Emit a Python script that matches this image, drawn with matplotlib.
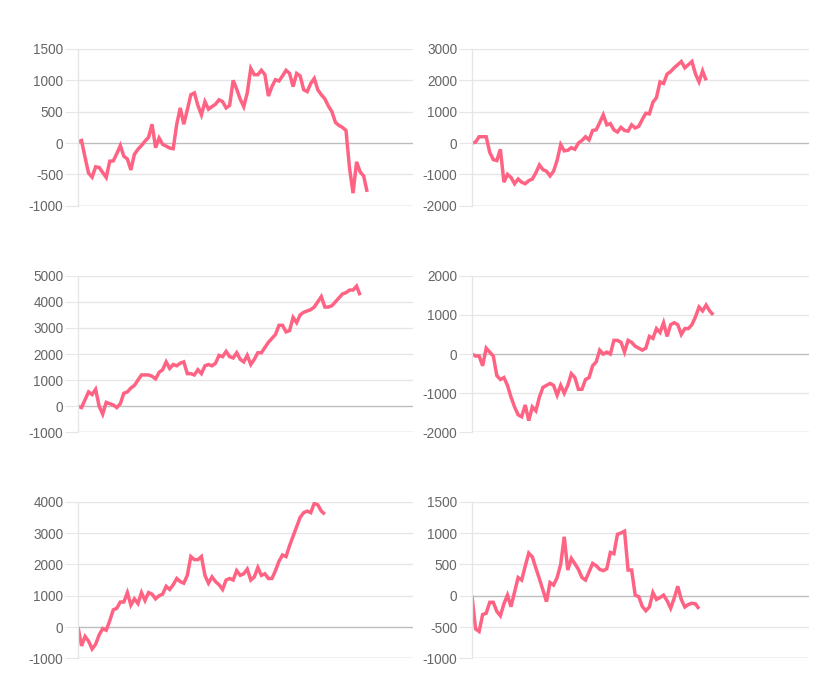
import numpy as np
import matplotlib.pyplot as plt

# shared x labels (category axis)
labels = list(range(96))

s1 = [20, 40, -230, -480, -545, -380, -390, -470, -550, -290,
      -285, -170, -40, -210, -255, -430, -180, -100, -40, 30,
      90, 300, -75, 80, -20, -50, -80, -90, 300, 560,
      300, 530, 770, 800, 600, 450, 660, 540, 580, 620,
      690, 660, 560, 600, 1000, 860, 700, 580, 800, 1190,
      1090, 1090, 1160, 1090, 750, 900, 1010, 990, 1070, 1160,
      1110, 900, 1110, 1070, 850, 820, 950, 1030, 850, 770,
      705, 590, 500, 330, 280, 250, 200, -400, -800, -300,
      -460, -525, -780]
s2 = [0, 30, 200, 200, 200, -300, -530, -560, -200,
      -1250, -1000, -1100, -1300, -1150, -1250, -1300, -1200, -1150, -950,
      -700, -850, -900, -1050, -900, -550, -50, -250, -230, -150,
      -200, 0, 80, 200, 100, 400, 420, 650, 900, 580,
      620, 420, 350, 500, 400, 380, 580, 480, 530, 750,
      950, 930, 1300, 1450, 1950, 1900, 2200, 2280, 2400, 2500,
      2600, 2400, 2500, 2600, 2200, 1950, 2300, 2000]
s3 = [0, -50, 250, 550, 450, 650, 0, -300, 150, 100,
      50, -50, 100, 500, 550, 700, 800, 1000, 1200, 1200,
      1200, 1150, 1050, 1300, 1400, 1700, 1450, 1600, 1550, 1650,
      1700, 1250, 1250, 1200, 1400, 1250, 1550, 1600, 1550, 1650,
      1950, 1900, 2100, 1900, 1850, 2050, 1800, 1700, 1950, 1600,
      1800, 2050, 2050, 2250, 2450, 2600, 2750, 3100, 3100, 2850,
      2900, 3400, 3200, 3500, 3600, 3650, 3700, 3800, 4000, 4200,
      3800, 3800, 3850, 4000, 4150, 4300, 4350, 4450, 4450, 4600,
      4250]
s4 = [0, -50, -50, -300, 150, 50, -50, -550, -650, -600,
      -800, -1100, -1350, -1550, -1600, -1300, -1700, -1350, -1450, -1100,
      -850, -800, -750, -800, -1050, -800, -1000, -800, -500, -600,
      -900, -900, -650, -600, -300, -200, 100, 0, 50, 0,
      350, 350, 300, 50, 350, 300, 200, 150, 100, 150,
      450, 400, 650, 550, 800, 450, 750, 800, 750, 500,
      650, 650, 750, 950, 1200, 1100, 1250, 1100, 1000]
s5 = [0, -600, -300, -450, -700, -550, -250, -50, -100, 200,
      550, 600, 800, 800, 1100, 700, 900, 750, 1100, 850,
      1100, 1050, 900, 1000, 1050, 1300, 1200, 1350, 1550, 1450,
      1400, 1650, 2250, 2150, 2150, 2250, 1650, 1400, 1600, 1450,
      1350, 1200, 1500, 1550, 1500, 1800, 1650, 1700, 1850, 1500,
      1600, 1900, 1650, 1700, 1550, 1550, 1800, 2100, 2300, 2250,
      2600, 2900, 3200, 3500, 3650, 3700, 3650, 3950, 3900, 3700,
      3600]
s6 = [0, -530, -570, -300, -280, -105, -105, -250, -320, -130,
      10, -175, 60, 290, 250, 470, 680, 620, 440, 270,
      90, -95, 210, 170, 290, 500, 940, 410, 595, 510,
      420, 290, 250, 380, 515, 480, 420, 400, 430, 690,
      670, 980, 1000, 1030, 410, 410, 10, -15, -170, -240,
      -180, 50, -60, -30, 10, -80, -200, -40, 150, -60,
      -180, -140, -120, -130, -210]

series = [s1, s2, s3, s4, s5, s6]
yticks = [
    [-1000, -500, 0, 500, 1000, 1500],
    [-2000, -1000, 0, 1000, 2000, 3000],
    [-1000, 0, 1000, 2000, 3000, 4000, 5000],
    [-2000, -1000, 0, 1000, 2000],
    [-1000, 0, 1000, 2000, 3000, 4000],
    [-1000, -500, 0, 500, 1000, 1500],
]

W, H = 828, 676
fig = plt.figure(figsize=(W / 100, H / 100), dpi=100)
plt.rcParams["font.family"] = ["Liberation Sans", "DejaVu Sans"]

col_x = [(78, 335), (472, 337)]
row_top = [49, 275.7, 501.7]
ax_h = 156.7

for i, (data, ticks) in enumerate(zip(series, yticks)):
    r, c = divmod(i, 2)
    x0, w = col_x[c]
    ax = fig.add_axes([x0 / W, 1 - (row_top[r] + ax_h) / H, w / W, ax_h / H])
    ax.plot(labels[:len(data)], data, color="#ff6384", lw=2.5,
            solid_joinstyle="miter", solid_capstyle="butt")
    ax.set_xlim(labels[0], labels[-1])
    ax.set_ylim(ticks[0], ticks[-1])
    ax.set_yticks(ticks)
    ax.set_yticklabels([str(t) for t in ticks])
    ax.set_xticks([])
    for t in ticks:
        ax.axhline(t, color="#bdbdbd" if t == 0 else "#e6e6e6", lw=1, zorder=0)
    ax.axhline(ticks[0], color="#d2d2d2", lw=1, zorder=0)
    for s in ["top", "right", "bottom"]:
        ax.spines[s].set_visible(False)
    ax.spines["left"].set_color("#e6e6e6")
    ax.spines["left"].set_linewidth(1)
    ax.tick_params(axis="y", length=9.5, width=0.8, color="#e6e6e6",
                   labelsize=9.8, labelcolor="#666666", pad=1)
    ax.set_facecolor("none")

fig.savefig("out.png", dpi=100)
